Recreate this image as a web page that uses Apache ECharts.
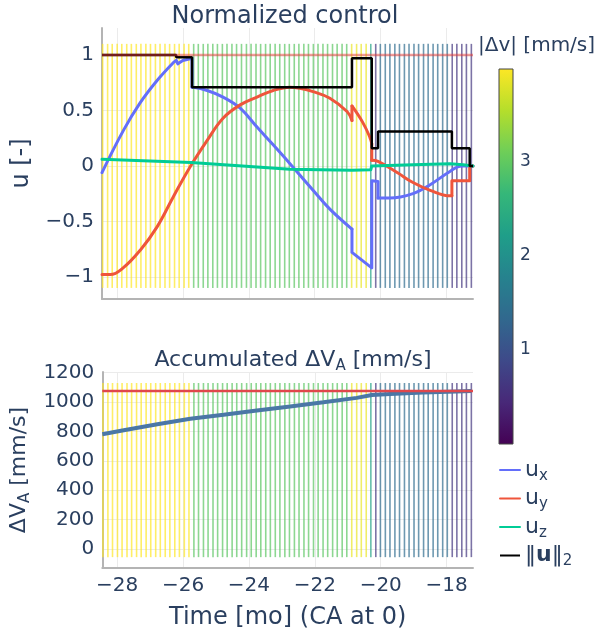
<!DOCTYPE html>
<html>
<head>
<meta charset="utf-8">
<script src="https://cdn.jsdelivr.net/npm/echarts@6/dist/echarts.min.js"></script>
<style>
html, body { margin: 0; padding: 0; background: #fff; }
#main { width: 595px; height: 637px; }
</style>
</head>
<body>
<div id="main"></div>
<script>
// impulse times [mo] and |dv| [mm/s]
var impTime = [-28.43, -28.28, -28.14, -27.99, -27.85, -27.70, -27.56, -27.41, -27.27, -27.12,
  -26.98, -26.83, -26.69, -26.54, -26.40, -26.25, -26.11, -25.96, -25.82, -25.67,
  -25.53, -25.38, -25.24, -25.09, -24.95, -24.80, -24.66, -24.51, -24.37, -24.22,
  -24.07, -23.93, -23.78, -23.64, -23.49, -23.35, -23.20, -23.06, -22.91, -22.77,
  -22.62, -22.48, -22.33, -22.19, -22.04, -21.90, -21.75, -21.61, -21.46, -21.32,
  -21.17, -21.03, -20.88, -20.73, -20.59, -20.44, -20.30, -20.15, -20.01, -19.86,
  -19.72, -19.57, -19.43, -19.28, -19.14, -18.99, -18.85, -18.70, -18.56, -18.41,
  -18.27, -18.12, -17.98, -17.83, -17.69, -17.54, -17.40, -17.25];
var impDv = [3.98, 3.98, 3.98, 3.98, 3.98, 3.98, 3.98, 3.98, 3.98, 3.98,
  3.98, 3.98, 3.98, 3.98, 3.98, 3.98, 3.98, 3.98, 3.98, 2.95,
  2.95, 2.95, 2.95, 2.95, 2.95, 2.95, 2.95, 2.95, 2.95, 2.95,
  2.95, 2.95, 2.95, 2.95, 2.95, 2.95, 2.95, 2.95, 2.95, 2.95,
  2.95, 2.95, 2.95, 2.95, 2.95, 2.95, 2.95, 2.95, 2.95, 2.95,
  2.95, 2.95, 3.86, 3.86, 3.86, 3.86, 2.3, 0.64, 1.4, 1.4,
  1.4, 1.4, 1.4, 1.4, 1.4, 1.4, 1.4, 1.4, 1.4, 1.4,
  1.4, 1.4, 1.4, 0.64, 0.64, 0.64, 0.64, 0.64];

// normalized control components: smooth arcs + straight jumps (null = break)
var uxCurveTime = [-28.45, -27.8, -27.29, -26.78, -26.29, -26.2, null,
  -25.72, -25.26, -24.78, -24.26, -23.75, -23.26, -22.75, -22.05, -21.54, -20.87, null,
  -20.08, -19.72, -19.02, -18.5, -17.9, -17.54, -17.2];
var uxCurveVal = [-0.06, 0.32, 0.57, 0.77, 0.93, 0.95, null,
  0.71, 0.68, 0.62, 0.52, 0.35, 0.19, 0.02, -0.22, -0.39, -0.57, null,
  -0.29, -0.29, -0.25, -0.17, -0.05, 0.0, 0.0];
var uxJumpTime = [-26.2, -26.15, -26.0, -25.72, -25.72, null, -20.87, -20.87, -20.27, -20.27, -20.08, -20.08];
var uxJumpVal = [0.95, 0.92, 0.95, 0.97, 0.71, null, -0.57, -0.78, -0.92, -0.135, -0.14, -0.29];

var uyCurveTime = [-28.45, -28.2, -27.81, -27.29, -26.78, -26.29, -25.78, -25.26, -24.78, -24.26,
  -23.75, -23.26, -22.75, -22.45, -22.05, -21.54, -21.02, -20.87, null,
  -20.87, -20.54, -20.33, -20.27, null,
  -20.27, -20.08, -19.5, -19.02, -18.5, -17.9, -17.84];
var uyCurveVal = [-0.98, -0.98, -0.92, -0.76, -0.55, -0.28, -0.01, 0.23, 0.43, 0.55,
  0.62, 0.68, 0.71, 0.70, 0.67, 0.61, 0.49, 0.41, null,
  0.54, 0.39, 0.26, 0.2, null,
  0.05, 0.04, -0.06, -0.15, -0.22, -0.27, -0.27];
var uyJumpTime = [-20.87, -20.87, null, -20.27, -20.27, null, -17.84, -17.84, -17.3, -17.3, -17.2];
var uyJumpVal = [0.41, 0.54, null, 0.2, 0.05, null, -0.27, -0.135, -0.135, 0, 0];

var uzTime = [-28.45, -25.75, -22.75, -20.87, -20.3, -20.27, -19.02, -17.9, -17.5, -17.2];
var uzVal = [0.06, 0.03, -0.03, -0.04, -0.035, 0.0, 0.01, 0.02, 0.01, 0.0];

var normTime = [-28.45, -26.2, -26.2, -25.72, -25.72, -20.87, -20.87, -20.27, -20.27, -20.08, -20.08, -17.84, -17.84, -17.3, -17.3, -17.2];
var normVal = [1, 1, 0.98, 0.98, 0.71, 0.71, 0.97, 0.97, 0.16, 0.16, 0.31, 0.31, 0.16, 0.16, 0, 0];

// accumulated dV_A [mm/s]
var accTime = [-28.45, -27.8, -26.78, -25.78, -24.77, -23.76, -22.75, -21.74, -20.73, -20.27, -19.72, -18.72, -17.71, -17.25];
var accVal = [781, 808, 849, 887, 914, 943, 970, 999, 1029, 1049, 1056, 1065, 1072, 1075];

var uLimit = 1;
var dvLimit = 1076;

var xTicks = [-28, -26, -24, -22, -20, -18];
var uTicks = [-1, -0.5, 0, 0.5, 1];
var accTicks = [0, 200, 400, 600, 800, 1000, 1200];
var cbTicks = [1, 2, 3];

var xMin = -28.45, xMax = -17.2;
var cbMin = 0, cbMax = 3.98;

var viridis = ['#440154', '#482878', '#3e4989', '#31688e', '#26828e', '#1f9e89', '#35b779', '#6ece58', '#b5de2b', '#fde725'];

var FONT = "'DejaVu Sans', Verdana, sans-serif";
var TXT = '#2a3f5f';

function zip(a, b) {
  var out = [];
  for (var i = 0; i < a.length; i++) out.push(a[i] === null ? [null, null] : [a[i], b[i]]);
  return out;
}
function fmt(v) {
  return v < 0 ? '\u2212' + String(-v) : String(v);
}

var impData = zip(impTime, impDv);

function impulseSeries(xi, lo, hi) {
  return {
    type: 'custom',
    xAxisIndex: xi, yAxisIndex: xi,
    data: impData,
    encode: { x: 0, y: 1 },
    silent: true,
    z: 1,
    renderItem: function (params, api) {
      var a = api.coord([api.value(0), lo]);
      var b = api.coord([api.value(0), hi]);
      return {
        type: 'line',
        shape: { x1: a[0], y1: a[1], x2: b[0], y2: b[1] },
        style: { stroke: api.visual('color'), lineWidth: 1.6, opacity: 0.7 }
      };
    }
  };
}

function uSeries(name, data, color, smooth) {
  return {
    name: name, type: 'line', xAxisIndex: 0, yAxisIndex: 0, data: data,
    smooth: smooth, connectNulls: false, symbol: 'none',
    lineStyle: { color: color, width: 3, cap: 'round', join: 'round' },
    itemStyle: { color: color }, z: 3
  };
}

var gridLine = { show: true, lineStyle: { color: '#ebebeb', width: 1 } };
var axLine = { show: true, onZero: false, lineStyle: { color: '#b4b4b4', width: 2 } };
function subRich(big) {
  return {
    s: { fontSize: Math.round(big * 0.68), fontFamily: FONT, color: TXT, padding: [Math.round(big * 0.55), 0, 0, 0] },
    b: { fontSize: big, fontFamily: FONT, color: TXT, fontWeight: 'bold' }
  };
}

var chart = echarts.init(document.getElementById('main'));
var option = {
  animation: false,
  backgroundColor: '#fff',
  textStyle: { fontFamily: FONT, color: TXT },
  title: [
    { text: 'Normalized control', left: 280, top: 0, textAlign: 'center',
      textStyle: { fontSize: 24, fontWeight: 'normal', color: TXT, fontFamily: FONT } },
    { text: 'Accumulated \u0394V{s|A} [mm/s]', left: 288, top: 342, textAlign: 'center',
      textStyle: { fontSize: 22, fontWeight: 'normal', color: TXT, fontFamily: FONT, rich: subRich(22) } }
  ],
  grid: [
    { left: 102, top: 28, width: 371, height: 271 },
    { left: 102, top: 372, width: 371, height: 196 },
    { left: 499, top: 69, width: 14, height: 375 }
  ],
  xAxis: [
    { type: 'value', gridIndex: 0, min: xMin, max: xMax,
      axisLine: axLine, axisTick: { show: false, customValues: xTicks },
      axisLabel: { show: false, customValues: xTicks }, splitLine: gridLine },
    { type: 'value', gridIndex: 1, min: xMin, max: xMax,
      axisLine: axLine, axisTick: { show: false, customValues: xTicks },
      axisLabel: { customValues: xTicks, formatter: fmt, fontSize: 20, color: TXT, margin: 8, fontFamily: FONT },
      splitLine: gridLine,
      name: 'Time [mo] (CA at 0)', nameLocation: 'middle', nameGap: 38,
      nameTextStyle: { fontSize: 24, color: TXT, fontFamily: FONT } },
    { type: 'value', gridIndex: 2, min: 0, max: 1, show: false }
  ],
  yAxis: [
    { type: 'value', gridIndex: 0, min: -1.2, max: 1.243,
      axisLine: axLine, axisTick: { show: false, customValues: uTicks },
      axisLabel: { customValues: uTicks, formatter: fmt, fontSize: 20, color: TXT, margin: 8, fontFamily: FONT },
      splitLine: gridLine,
      name: 'u [-]', nameLocation: 'middle', nameGap: 68, nameRotate: 90,
      nameTextStyle: { fontSize: 24, color: TXT, fontFamily: FONT } },
    { type: 'value', gridIndex: 1, min: -129, max: 1205,
      axisLine: axLine, axisTick: { show: false, customValues: accTicks },
      axisLabel: { customValues: accTicks, formatter: fmt, fontSize: 20, color: TXT, margin: 8, fontFamily: FONT },
      splitLine: gridLine,
      name: '\u0394V{s|A} [mm/s]', nameLocation: 'middle', nameGap: 68, nameRotate: 90,
      nameTextStyle: { fontSize: 22, color: TXT, fontFamily: FONT, rich: subRich(22) } },
    { type: 'value', gridIndex: 2, min: cbMin, max: cbMax, position: 'right',
      axisLine: { show: false }, axisTick: { show: false, customValues: cbTicks },
      axisLabel: { customValues: cbTicks, fontSize: 17, color: TXT, margin: 7, fontFamily: FONT },
      splitLine: { show: false } }
  ],
  visualMap: {
    show: false, type: 'continuous', min: cbMin, max: cbMax, dimension: 1,
    seriesIndex: [0, 8], inRange: { color: viridis }
  },
  legend: {
    data: ['u_x', 'u_y', 'u_z', 'norm'],
    orient: 'vertical', left: 494, top: 454,
    itemWidth: 20, itemHeight: 14, itemGap: 4,
    selectedMode: false,
    itemStyle: { opacity: 0 },
    lineStyle: { width: 2 },
    formatter: function (name) {
      if (name === 'norm') return '\u2016{b|u}\u2016{s|2}';
      return 'u{s|' + name.slice(2) + '}';
    },
    textStyle: { fontSize: 22, color: TXT, fontFamily: FONT, rich: subRich(22) }
  },
  graphic: [
    { type: 'text', left: 478, top: 36,
      style: { text: '|\u0394v| [mm/s]', font: '20px ' + FONT, fill: TXT } }
  ],
  series: [
    impulseSeries(0, -1.1, 1.1),
    uSeries('u_x', zip(uxCurveTime, uxCurveVal), '#636efa', 0.4),
    uSeries('u_x', zip(uxJumpTime, uxJumpVal), '#636efa', false),
    uSeries('u_y', zip(uyCurveTime, uyCurveVal), '#ef553b', 0.4),
    uSeries('u_y', zip(uyJumpTime, uyJumpVal), '#ef553b', false),
    uSeries('u_z', zip(uzTime, uzVal), '#00cc96', false),
    { name: 'norm', type: 'line', xAxisIndex: 0, yAxisIndex: 0, data: zip(normTime, normVal),
      symbol: 'none', lineStyle: { color: '#000', width: 2.5 }, itemStyle: { color: '#000' }, z: 4 },
    { name: 'limit_u', type: 'line', xAxisIndex: 0, yAxisIndex: 0, data: [[xMin, uLimit], [xMax, uLimit]],
      symbol: 'none', silent: true, lineStyle: { color: '#e53935', width: 2.5, opacity: 0.5 }, z: 5 },
    impulseSeries(1, -55, 1130),
    { name: 'acc', type: 'line', xAxisIndex: 1, yAxisIndex: 1, data: zip(accTime, accVal),
      symbol: 'none', lineStyle: { color: '#4a77a6', width: 4 }, z: 3 },
    { name: 'limit_dv', type: 'line', xAxisIndex: 1, yAxisIndex: 1, data: [[xMin, dvLimit], [xMax, dvLimit]],
      symbol: 'none', silent: true, lineStyle: { color: '#e0474c', width: 2.5 }, z: 4 },
    { name: 'colorbar', type: 'custom', xAxisIndex: 2, yAxisIndex: 2, data: [[0, cbMin, cbMax]],
      silent: true,
      renderItem: function (params, api) {
        var p0 = api.coord([0, api.value(2)]);
        var p1 = api.coord([1, api.value(1)]);
        var stops = viridis.map(function (c, i) { return { offset: i / (viridis.length - 1), color: c }; });
        return {
          type: 'rect',
          shape: { x: p0[0], y: p0[1], width: p1[0] - p0[0], height: p1[1] - p0[1] },
          style: { fill: new echarts.graphic.LinearGradient(0, 1, 0, 0, stops), stroke: '#444', lineWidth: 1 }
        };
      }
    }
  ]
};
chart.setOption(option);
</script>
</body>
</html>
